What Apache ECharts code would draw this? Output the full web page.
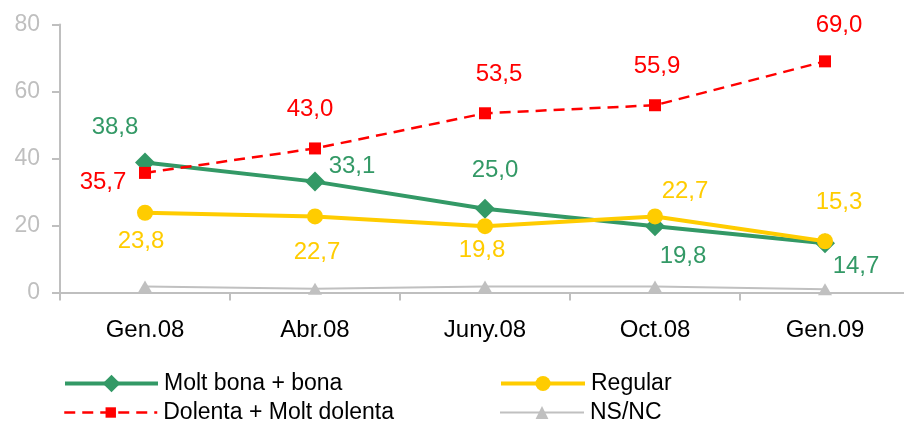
<!DOCTYPE html>
<html>
<head>
<meta charset="utf-8">
<script src="https://cdn.jsdelivr.net/npm/echarts@6/dist/echarts.min.js"></script>
<style>
html,body{margin:0;padding:0;background:#fff;}
#chart{width:904px;height:425px;}
</style>
</head>
<body>
<div id="chart"></div>
<script>
const categories = ['Gen.08', 'Abr.08', 'Juny.08', 'Oct.08', 'Gen.09'];
const moltBona = [38.8, 33.1, 25.0, 19.8, 14.7];
const regular = [23.8, 22.7, 19.8, 22.7, 15.3];
const dolenta = [35.7, 43.0, 53.5, 55.9, 69.0];
const nsnc = [1.8, 1.1, 1.8, 1.8, 1.0];
const yTicks = [0, 20, 40, 60, 80];

const seriesNames = ['Molt bona + bona', 'Regular', 'Dolenta + Molt dolenta', 'NS/NC'];

// label offsets (pixels) for each point label
const greenOff = [[-30, -35], [37, -15], [10, -38], [28, 30], [31, 23]];
const yellowOff = [[-4, 29], [2, 36], [-3, 24], [30, -25], [14, -39]];
const redOff = [[-42, 9], [-5, -39], [14, -39], [2, -39], [14, -36]];

const FONT = "'Liberation Sans', Arial, sans-serif";
const GREEN = '#339966', YELLOW = '#FFCC00', RED = '#FF0000', GRAY = '#C0C0C0';

function fmt(v) { return v.toFixed(1).replace('.', ','); }

function withLabels(values, offsets, color) {
  return values.map((v, i) => ({
    value: v,
    label: {
      show: true,
      position: 'inside',
      offset: offsets[i],
      formatter: fmt(v),
      color: color,
      fontSize: 24,
      fontFamily: FONT
    }
  }));
}

function legendItem(name, left, top, width, iconH, lineStyle) {
  return {
    data: [name],
    orient: 'horizontal',
    left: left,
    top: top,
    padding: 0,
    itemWidth: width,
    itemHeight: iconH,
    itemGap: 0,
    lineStyle: lineStyle,
    textStyle: { color: '#000', fontSize: 23, fontFamily: FONT, lineHeight: 23, padding: [0, 0, 0, 1] }
  };
}

const chart = echarts.init(document.getElementById('chart'), null, { renderer: 'canvas' });

const option = {
  backgroundColor: '#ffffff',
  animation: false,
  grid: { left: 60, top: 24.5, width: 850, height: 268, containLabel: false, outerBoundsMode: 'none' },
  xAxis: {
    type: 'category',
    data: categories,
    boundaryGap: true,
    axisLine: { lineStyle: { color: '#BFBFBF', width: 2 } },
    axisTick: { show: true, length: 8, lineStyle: { color: '#BFBFBF', width: 2 } },
    axisLabel: { color: '#000000', fontSize: 24, fontFamily: FONT, margin: 26 },
    splitLine: { show: false }
  },
  yAxis: {
    type: 'value',
    min: yTicks[0],
    max: yTicks[yTicks.length - 1],
    interval: yTicks[1] - yTicks[0],
    axisLine: { show: true, lineStyle: { color: '#BFBFBF', width: 2 } },
    axisTick: { show: true, length: 8, lineStyle: { color: '#BFBFBF', width: 2 } },
    axisLabel: { color: '#BFBFBF', fontSize: 23, fontFamily: FONT, margin: 20 },
    splitLine: { show: false }
  },
  legend: [
    legendItem(seriesNames[0], 63, 372, 93, 22, { width: 4 }),
    legendItem(seriesNames[2], 63, 401, 93, 13, { width: 2.5 }),
    legendItem(seriesNames[1], 499, 372, 84, 19, { width: 4 }),
    legendItem(seriesNames[3], 499, 401, 84, 16, { width: 2 })
  ],
  series: [
    {
      name: seriesNames[0],
      type: 'line',
      data: withLabels(moltBona, greenOff, GREEN),
      symbol: 'diamond',
      symbolSize: 20,
      lineStyle: { color: GREEN, width: 4 },
      itemStyle: { color: GREEN },
      z: 2
    },
    {
      name: seriesNames[1],
      type: 'line',
      data: withLabels(regular, yellowOff, YELLOW),
      symbol: 'circle',
      symbolSize: 16,
      lineStyle: { color: YELLOW, width: 4 },
      itemStyle: { color: YELLOW },
      z: 3
    },
    {
      name: seriesNames[2],
      type: 'line',
      data: withLabels(dolenta, redOff, RED),
      symbol: 'rect',
      symbolSize: 12,
      lineStyle: { color: RED, width: 2.5, type: [11, 7] },
      itemStyle: { color: RED },
      z: 4
    },
    {
      name: seriesNames[3],
      type: 'line',
      data: nsnc,
      symbol: 'triangle',
      symbolSize: [14, 12],
      lineStyle: { color: GRAY, width: 2 },
      itemStyle: { color: GRAY },
      label: { show: false },
      z: 1
    }
  ]
};

chart.setOption(option);
</script>
</body>
</html>
